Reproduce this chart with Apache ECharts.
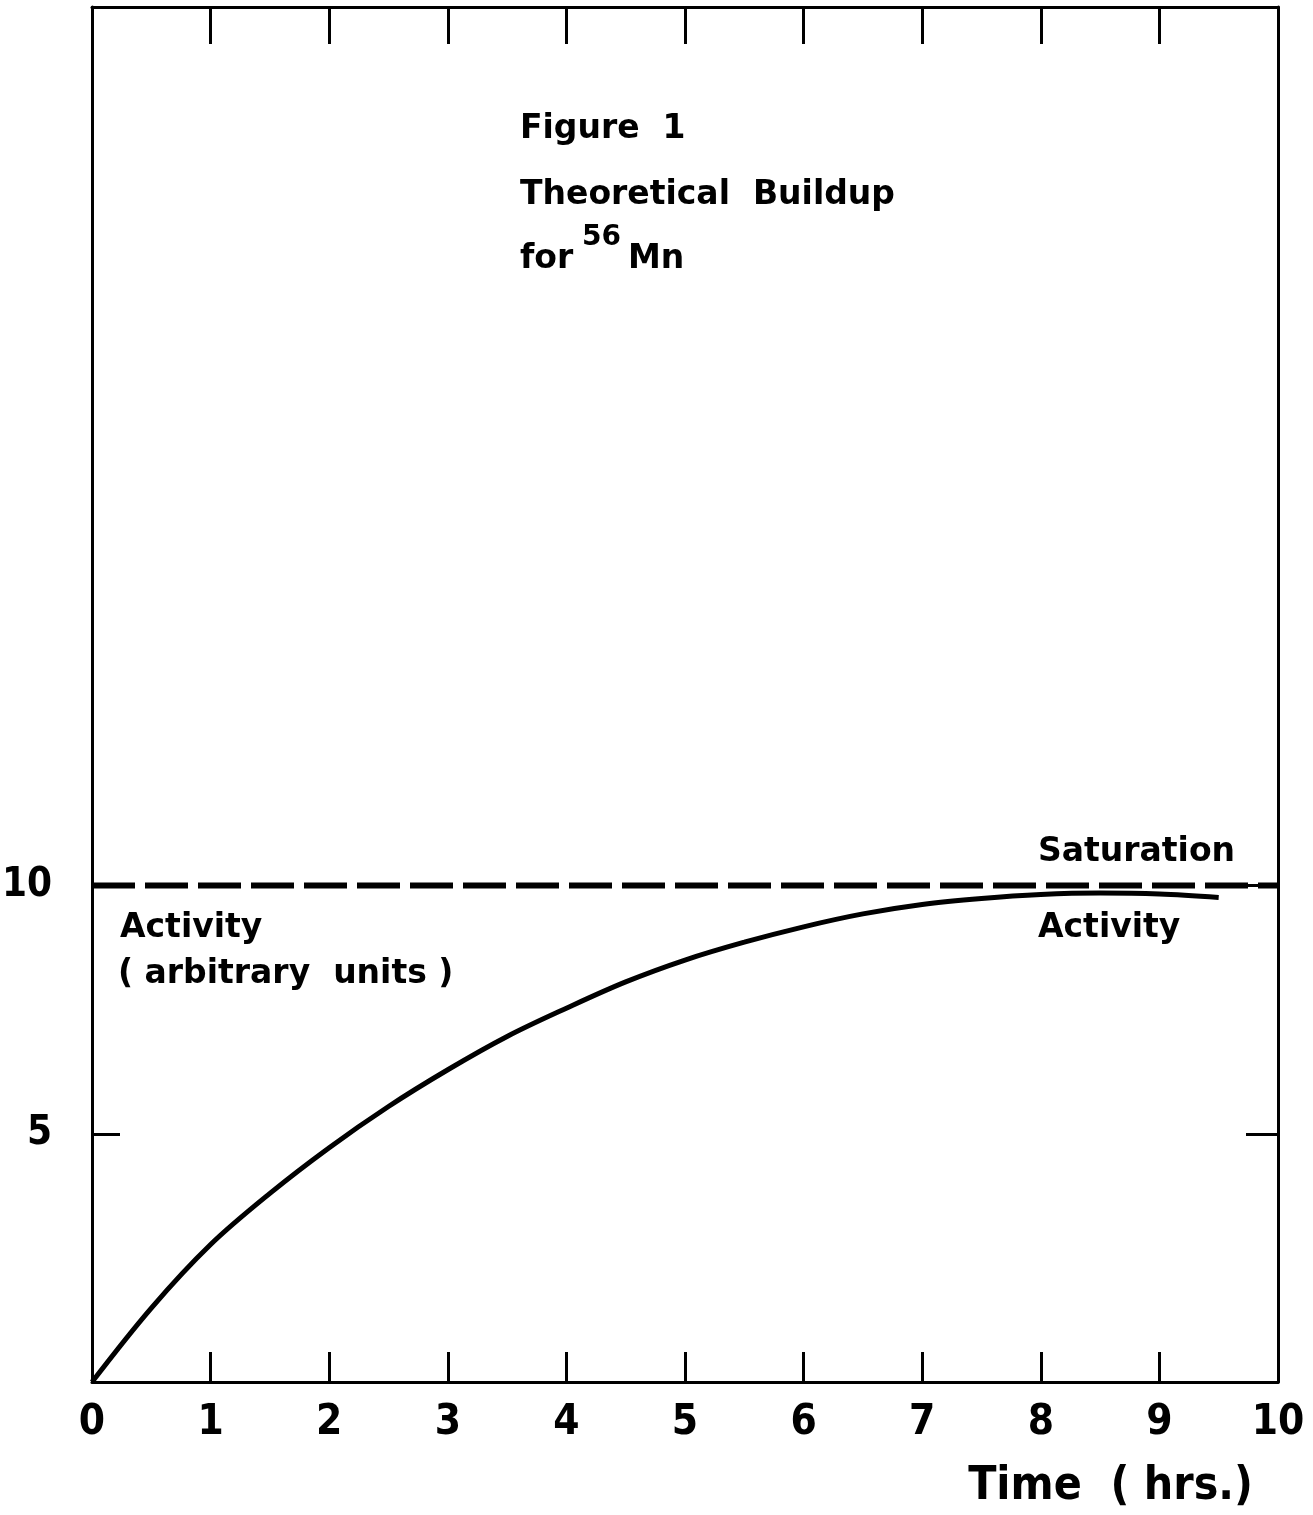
<!DOCTYPE html>
<html>
<head>
<meta charset="utf-8">
<script src="https://cdn.jsdelivr.net/npm/echarts@6/dist/echarts.min.js"></script>
<style>
  html, body { margin: 0; padding: 0; background: #fff; }
  #main { width: 1313px; height: 1515px; }
</style>
</head>
<body>
<div id="main"></div>
<script>
// time in hours, activity
const hours = [0, 0.5, 1, 1.5, 2, 2.5, 3, 3.5, 4, 4.5, 5, 5.5, 6, 6.5, 7, 7.5, 8, 8.5, 9, 9.5];
const activity = [0, 1.49, 2.77, 3.80, 4.72, 5.55, 6.29, 6.96, 7.53, 8.06, 8.50, 8.86, 9.17, 9.43, 9.62, 9.74, 9.82, 9.85, 9.83, 9.76];
const saturationX = [0, 10];
const saturationY = [10, 10];
const xTickValues = [0, 1, 2, 3, 4, 5, 6, 7, 8, 9, 10];
const innerXTicks = [1, 2, 3, 4, 5, 6, 7, 8, 9];
const yTickValues = [5, 10];

const labelFont = "'DejaVu Sans Condensed', 'DejaVu Sans', sans-serif";
const textFont = "'DejaVu Sans', sans-serif";
const ink = '#000';

let curve = hours.map((h, i) => [h, activity[i]]);
let saturation = saturationX.map((x, i) => [x, saturationY[i]]);

// frame lines, kept at the grid edges (not on zero)
let frameLine = { show: true, onZero: false, lineStyle: { color: ink, width: 3 } };

let option = {
  animation: false,
  backgroundColor: '#fff',
  grid: { left: 92, right: 35, top: 7, bottom: 133, outerBoundsMode: 'none', containLabel: false },
  xAxis: [
    {
      type: 'value', min: 0, max: 10, interval: 1,
      axisLine: frameLine,
      splitLine: { show: false },
      axisTick: { inside: true, length: 30, customValues: innerXTicks, lineStyle: { color: ink, width: 3 } },
      axisLabel: {
        customValues: xTickValues, margin: 20,
        color: ink, fontFamily: labelFont, fontWeight: 'bold', fontSize: 42
      }
    },
    {
      type: 'value', position: 'top', min: 0, max: 10, interval: 1,
      axisLine: frameLine,
      splitLine: { show: false },
      axisTick: { inside: true, length: 37, customValues: innerXTicks, lineStyle: { color: ink, width: 3 } },
      axisLabel: { show: false }
    }
  ],
  yAxis: [
    {
      type: 'value', min: 0, max: 27.7, interval: 5,
      axisLine: frameLine,
      splitLine: { show: false },
      axisTick: { inside: true, length: 28, customValues: yTickValues, lineStyle: { color: ink, width: 3 } },
      axisLabel: {
        customValues: yTickValues, margin: 40,
        color: ink, fontFamily: labelFont, fontWeight: 'bold', fontSize: 40
      }
    },
    {
      type: 'value', position: 'right', min: 0, max: 27.7, interval: 5,
      axisLine: frameLine,
      splitLine: { show: false },
      axisTick: { inside: true, length: 32, customValues: yTickValues, lineStyle: { color: ink, width: 3 } },
      axisLabel: { show: false }
    }
  ],
  series: [
    {
      name: 'Saturation',
      type: 'line',
      data: saturation,
      symbol: 'none',
      lineStyle: { color: ink, width: 6, type: [43, 10] }
    },
    {
      name: 'Activity',
      type: 'line',
      data: curve,
      symbol: 'none',
      smooth: 0.35,
      lineStyle: { color: ink, width: 5 }
    }
  ],
  graphic: [
    { type: 'text', left: 520, top: 113, style: { text: 'Figure  1', font: "bold 33px " + textFont, fill: ink } },
    { type: 'text', left: 520, top: 179, style: { text: 'Theoretical  Buildup', font: "bold 33px " + textFont, fill: ink } },
    { type: 'text', left: 520, top: 243, style: { text: 'for', font: "bold 33px " + textFont, fill: ink } },
    { type: 'text', left: 582, top: 224, style: { text: '56', font: "bold 28px " + textFont, fill: ink } },
    { type: 'text', left: 628, top: 243, style: { text: 'Mn', font: "bold 33px " + textFont, fill: ink } },
    { type: 'text', left: 120, top: 912, style: { text: 'Activity', font: "bold 33px " + textFont, fill: ink } },
    { type: 'text', left: 118, top: 958, style: { text: '( arbitrary  units )', font: "bold 33px " + textFont, fill: ink } },
    { type: 'text', left: 1038, top: 836, style: { text: 'Saturation', font: "bold 33px " + textFont, fill: ink } },
    { type: 'text', left: 1038, top: 912, style: { text: 'Activity', font: "bold 33px " + textFont, fill: ink } },
    { type: 'text', right: 60, top: 1464, style: { text: 'Time  ( hrs.)', font: "bold 46px " + labelFont, fill: ink } }
  ]
};

let myChart = echarts.init(document.getElementById('main'));
myChart.setOption(option);
</script>
</body>
</html>
